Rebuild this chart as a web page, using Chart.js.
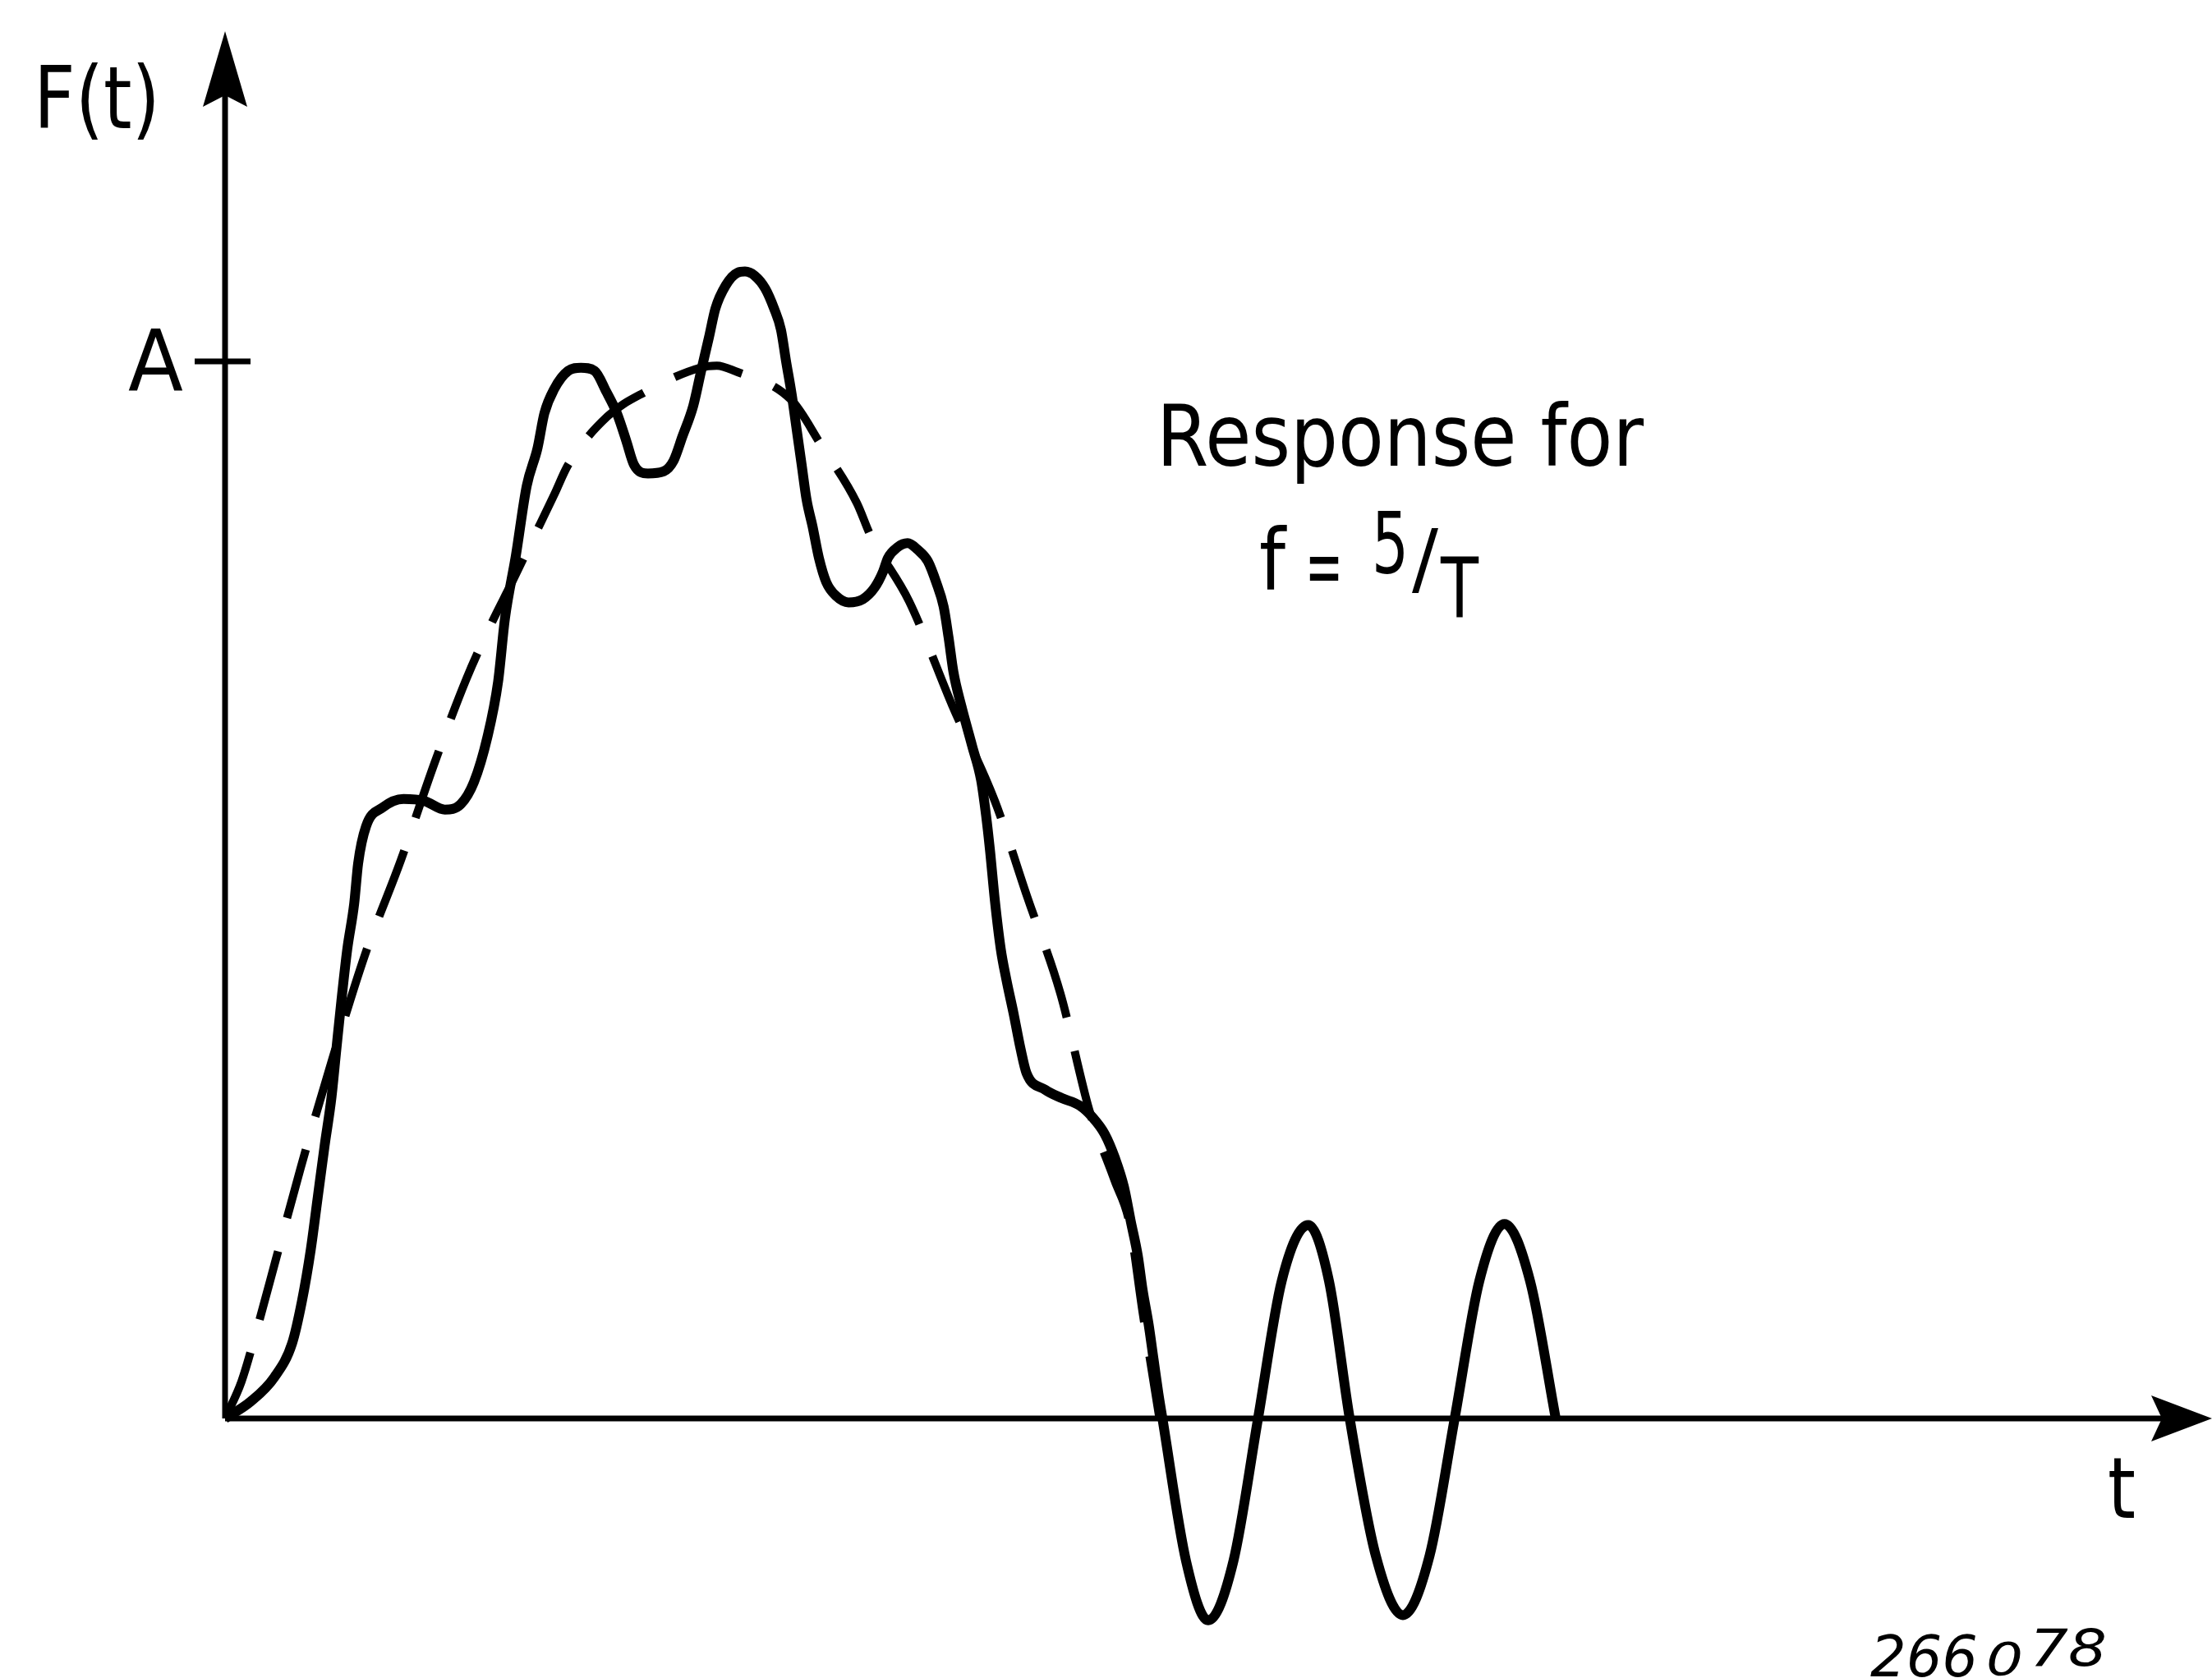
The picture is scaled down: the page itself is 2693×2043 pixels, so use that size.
<!DOCTYPE html>
<html>
<head>
<meta charset="utf-8">
<title>Response for f = 5/T</title>
<script src="https://cdn.jsdelivr.net/npm/chart.js@4.4.0/dist/chart.umd.min.js"></script>
<style>
    html, body { margin: 0; padding: 0; background: #ffffff; }
    #wrap { width: 2693px; height: 2043px; position: relative; }
</style>
</head>
<body>
<div id="wrap"><canvas id="responseChart"></canvas></div>
<script>
// time in units of the pulse length T, force in units of A
var responseTime = [
    0, 0.026, 0.050, 0.068, 0.078, 0.087, 0.094, 0.101, 0.108, 0.113,
    0.118, 0.124, 0.131, 0.135, 0.143, 0.160, 0.181, 0.2025, 0.223, 0.239,
    0.2525, 0.266, 0.277, 0.284, 0.295, 0.306, 0.317, 0.324, 0.334, 0.348,
    0.361, 0.375, 0.387, 0.3975, 0.407, 0.415, 0.429, 0.445, 0.455, 0.464,
    0.475, 0.483, 0.491, 0.4975, 0.508, 0.520, 0.5275, 0.5375, 0.548, 0.557,
    0.564, 0.569, 0.575, 0.580, 0.585, 0.590, 0.596, 0.6025, 0.610, 0.620,
    0.6325, 0.647, 0.659, 0.6675, 0.6725, 0.682, 0.6925, 0.7025, 0.713, 0.7215,
    0.729, 0.734, 0.739, 0.747, 0.758, 0.767, 0.772, 0.776, 0.781, 0.787,
    0.7925, 0.800, 0.807, 0.813, 0.832, 0.849, 0.867, 0.880, 0.8925, 0.903,
    0.912, 0.919, 0.926, 0.931, 0.937, 0.942, 0.947, 0.951, 0.975, 0.9975,
    1.023, 1.048, 1.072, 1.099, 1.120, 1.141, 1.1675, 1.195, 1.222, 1.2475,
    1.2725, 1.298, 1.324, 1.35
];
var responseValue = [
    0, 0.016, 0.039, 0.071, 0.111, 0.160, 0.209, 0.258, 0.304, 0.350,
    0.395, 0.444, 0.487, 0.525, 0.560, 0.578, 0.586, 0.584, 0.576, 0.581,
    0.602, 0.644, 0.697, 0.757, 0.816, 0.882, 0.918, 0.951, 0.974, 0.991,
    0.994, 0.991, 0.971, 0.951, 0.925, 0.902, 0.894, 0.896, 0.906, 0.929,
    0.958, 0.991, 1.023, 1.050, 1.072, 1.084, 1.085, 1.081, 1.069, 1.050,
    1.030, 1.001, 0.968, 0.935, 0.902, 0.869, 0.844, 0.814, 0.791, 0.778,
    0.772, 0.775, 0.786, 0.801, 0.814, 0.824, 0.828, 0.822, 0.811, 0.791,
    0.768, 0.739, 0.706, 0.674, 0.636, 0.604, 0.571, 0.538, 0.490, 0.444,
    0.416, 0.383, 0.350, 0.327, 0.311, 0.303, 0.296, 0.285, 0.269, 0.246,
    0.219, 0.186, 0.154, 0.121, 0.089, 0.056, 0.023, 0, -0.135, -0.191,
    -0.135, 0, 0.13, 0.183, 0.13, 0, -0.13, -0.186, -0.13, 0,
    0.13, 0.184, 0.13, 0
];

// half sine input pulse (dashed)
var pulseTime = [
    0, 0.0167, 0.0325, 0.0517, 0.0767, 0.105, 0.1417, 0.1783, 0.2125, 0.245,
    0.2717, 0.29, 0.3133, 0.334, 0.348, 0.388, 0.426, 0.482, 0.499, 0.517,
    0.575, 0.604, 0.641, 0.655, 0.694, 0.738, 0.781, 0.814, 0.8475, 0.877,
    0.9025, 0.9175, 0.931, 0.948
];
var pulseValue = [
    0, 0.035, 0.085, 0.151, 0.237, 0.328, 0.438, 0.528, 0.620, 0.700,
    0.755, 0.789, 0.834, 0.874, 0.902, 0.948, 0.971, 0.994, 0.996, 0.991,
    0.963, 0.922, 0.866, 0.835, 0.773, 0.674, 0.584, 0.493, 0.402, 0.291,
    0.225, 0.185, 0.10, 0
];

var levelTicks = [1];
var levelLabels = ['A'];

function toPoints(xs, ys) {
    var pts = [];
    for (var i = 0; i < xs.length; i++) {
        pts.push({ x: xs[i], y: ys[i] });
    }
    return pts;
}

// draws a string squeezed to a given width
function fitText(ctx, str, left, base, width, size, style) {
    ctx.font = (style || '') + ' ' + size + 'px "DejaVu Sans"';
    var w = ctx.measureText(str).width;
    ctx.save();
    ctx.translate(left, base);
    ctx.scale(width / w, 1);
    ctx.fillText(str, 0, 0);
    ctx.restore();
}

var sketchAxes = {
    id: 'sketchAxes',
    beforeDatasetsDraw: function (chart) {
        var ctx = chart.ctx;
        var xs = chart.scales.x, ys = chart.scales.y;
        var x0 = xs.getPixelForValue(0), y0 = ys.getPixelForValue(0);
        var right = chart.width;
        ctx.save();
        ctx.strokeStyle = '#000';
        ctx.fillStyle = '#000';
        ctx.lineWidth = 7;
        ctx.beginPath();
        ctx.moveTo(x0, y0);
        ctx.lineTo(x0, 110);
        ctx.moveTo(x0, y0);
        ctx.lineTo(right - 60, y0);
        ctx.stroke();

        // arrow heads
        ctx.beginPath();
        ctx.moveTo(x0, 38);
        ctx.lineTo(x0 - 27, 130);
        ctx.lineTo(x0, 116);
        ctx.lineTo(x0 + 27, 130);
        ctx.closePath();
        ctx.fill();
        ctx.beginPath();
        ctx.moveTo(right, y0);
        ctx.lineTo(right - 74, y0 - 28);
        ctx.lineTo(right - 61, y0);
        ctx.lineTo(right - 74, y0 + 28);
        ctx.closePath();
        ctx.fill();

        // level tick
        for (var i = 0; i < levelTicks.length; i++) {
            var ty = ys.getPixelForValue(levelTicks[i]);
            ctx.beginPath();
            ctx.moveTo(x0 - 37, ty);
            ctx.lineTo(x0 + 31, ty);
            ctx.stroke();
            fitText(ctx, levelLabels[i], x0 - 118, ty + 35, 67, 104);
        }
        ctx.restore();
    },
    afterDraw: function (chart) {
        var ctx = chart.ctx;
        ctx.save();
        ctx.fillStyle = '#000';
        ctx.textBaseline = 'alphabetic';
        fitText(ctx, 'F(t)', 41, 156, 154, 106);
        fitText(ctx, 't', 2566, 1848, 34, 104);
        fitText(ctx, 'Response for', 1408, 567, 593, 104);
        fitText(ctx, 'f', 1533, 718, 32, 104);
        fitText(ctx, '=', 1589, 725, 46, 104);
        fitText(ctx, '5', 1670, 698, 45, 104);
        fitText(ctx, '/', 1719, 713, 32, 96);
        fitText(ctx, 'T', 1754, 752, 46, 102);
        fitText(ctx, '266', 2277, 2041, 131, 70, 'italic');
        fitText(ctx, '0', 2418, 2039, 45, 56, 'italic');
        fitText(ctx, '78', 2471, 2028, 94, 62, 'italic');
        ctx.restore();
    }
};

var ctx = document.getElementById('responseChart').getContext('2d');
var responseChart = new Chart(ctx, {
    type: 'scatter',
    data: {
        datasets: [
            {
                label: 'response',
                data: toPoints(responseTime, responseValue),
                showLine: true,
                borderColor: '#000',
                borderWidth: 12,
                cubicInterpolationMode: 'monotone',
                pointRadius: 0,
                fill: false
            },
            {
                label: 'pulse',
                data: toPoints(pulseTime, pulseValue),
                showLine: true,
                borderColor: '#000',
                borderWidth: 10,
                borderDash: [86, 42],
                cubicInterpolationMode: 'monotone',
                pointRadius: 0,
                fill: false
            }
        ]
    },
    options: {
        responsive: true,
        maintainAspectRatio: false,
        animation: false,
        layout: { padding: { left: 274, right: 0, top: 0, bottom: 0 } },
        plugins: {
            legend: { display: false },
            tooltip: { enabled: false }
        },
        scales: {
            x: { type: 'linear', display: false, min: 0, max: 2.01583 },
            y: { type: 'linear', display: false, min: -0.24553, max: 1.34188 }
        }
    },
    plugins: [sketchAxes]
});
</script>
</body>
</html>
